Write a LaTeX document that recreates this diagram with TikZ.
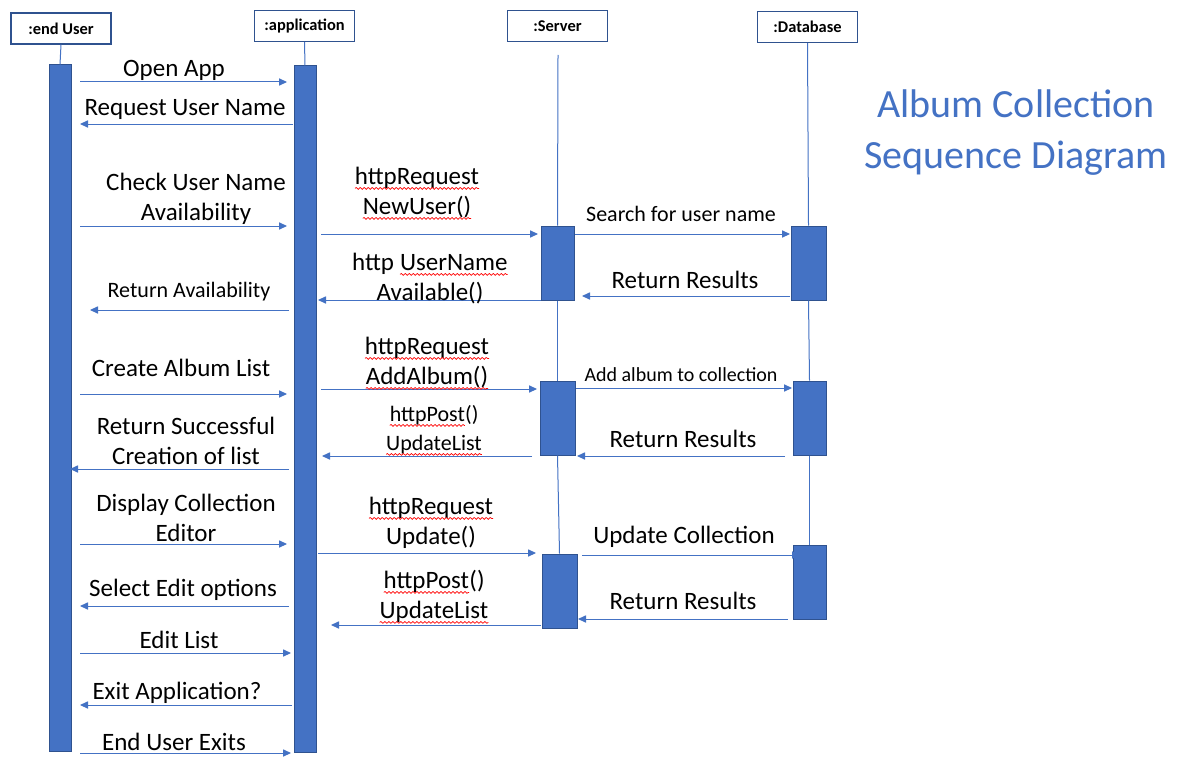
\documentclass[tikz,border=0pt]{standalone}
\usepackage{fontspec}
\setmainfont{Carlito}
\usetikzlibrary{arrows.meta,fit,decorations.pathmorphing}
\definecolor{blu}{HTML}{4472C4}
\definecolor{edgeblue}{HTML}{2F528F}
\newcommand\sqg[1]{\tikz[baseline=(sqw.base)]{\node[inner sep=0pt,outer sep=0pt,anchor=base] (sqw) {#1};
  \draw[red,line width=0.35pt,decorate,decoration={snake,amplitude=0.45pt,segment length=2pt}] ([yshift=-2.2pt]sqw.base west) -- ([yshift=-2.2pt]sqw.base east);}}
\begin{document}
\begin{tikzpicture}[x=0.5pt,y=-0.5pt,
  head/.style={draw=edgeblue,line width=0.6pt,fill=white,minimum width=50pt,minimum height=15.5pt,inner sep=0pt,font=\fontsize{8.2}{9.6}\selectfont\bfseries},
  bar/.style={draw=edgeblue,line width=0.5pt,fill=blu,inner sep=0pt},
  life/.style={draw=blu,line width=0.5pt},
  msg/.style={draw=blu,line width=0.5pt,-{Triangle[length=4pt,width=3.6pt]}},
  lbl/.style={inner sep=0pt,align=center,anchor=base,font=\fontsize{12.5}{15}\selectfont},
  lbls/.style={inner sep=0pt,align=center,anchor=base,font=\fontsize{11}{14.5}\selectfont},
  lblxs/.style={inner sep=0pt,align=center,anchor=base,font=\fontsize{10}{12}\selectfont},
  ttl/.style={inner sep=0pt,align=center,anchor=base,text=blu,font=\fontsize{20}{25}\selectfont}]
\useasboundingbox[fill=white] (0,0) rectangle (1187,765);

% heads
\node[head] (hu) at (61,28.5) {:end User};
\node[head] (ha) at (304.5,26) {:application};
\node[head] (hs) at (557.5,26) {:Server};
\node[head] (hd) at (807.5,27) {:Database};

% activation bars
\node[bar,fit={(49,65)(71,751)}] (bu) {};
\node[bar,fit={(294,66)(316,752)}] (ba) {};
\node[bar,fit={(541,226)(574,300)}] (bs1) {};
\node[bar,fit={(540,381)(575,455)}] (bs2) {};
\node[bar,fit={(542,554)(577,628)}] (bs3) {};
\node[bar,fit={(791,226)(826,300)}] (bd1) {};
\node[bar,fit={(793,381)(826,455)}] (bd2) {};
\node[bar,fit={(793,545)(826,619)}] (bd3) {};

% lifelines
\coordinate (s0) at (558,55);
\draw[life] (hu.south) -- (bu.north);
\draw[life] (ha.south) -- (ba.north);
\draw[life] (s0) -- (bs1.north);
\draw[life] (bs1.south) -- (bs2.north);
\draw[life] (bs2.south) -- (bs3.north);
\draw[life] (hd.south) -- (bd1.north);
\draw[life] (bd1.south) -- (bd2.north);
\draw[life] (bd2.south) -- (bd3.north);

% messages
\foreach \n/\xa/\xb/\y in {1/80/287/82, 2/293/80/124, 3/80/287/226, 4/289/90/310,
  5/80/287/394, 6/289/70/469, 7/80/287/544, 8/289/80/606, 9/80/291/653,
  10/292/80/705, 11/80/291/753,
  A/321/538/234, B/541/318/300, C/790/582/296, D/575/790/234,
  E/321/537/389, F/576/792/388, G/532/322/456, H/785/577/456,
  I/318/536/553, J/582/800/555, K/541/331/625, L/788/578/619}
{
  \coordinate (m\n a) at (\xa,\y);
  \coordinate (m\n b) at (\xb,\y);
  \draw[msg] (m\n a) -- (m\n b);
}

% left labels (anchor = baseline of last line)
\node[lbl] (l1) at (174,76) {Open App};
\node[lbl] (l2) at (185,116) {Request User Name};
\node[lbl] (l3) at (196,220) {Check User Name\\Availability};
\node[lbls] (l4) at (189,297) {Return Availability};
\node[lbl] (l5) at (181,376) {Create Album List};
\node[lbl] (l6) at (186,464) {Return Successful\\Creation of list};
\node[lbl] (l7) at (186,541) {Display Collection\\Editor};
\node[lbl] (l8) at (183,596) {Select Edit options};
\node[lbl] (l9) at (179,648) {Edit List};
\node[lbl] (l10) at (177,699) {Exit Application?};
\node[lbl] (l11) at (174,750) {End User Exits};

% middle labels
\node[lbl] (lA) at (417,214) {\sqg{httpRequest}\\\sqg{NewUser()}};
\node[lbl] (lB) at (430,300) {http \sqg{UserName}\\Available()};
\node[lbl] (lC) at (685,288) {Return Results};
\node[lbls] (lD) at (681,221) {Search for user name};
\node[lbl] (lE) at (427,384) {\sqg{httpRequest}\\\sqg{AddAlbum()}};
\node[lblxs] (lF) at (681,381) {Add album to collection};
\node[lbls] (lG) at (434,450) {\sqg{httpPost}()\\\sqg{UpdateList}};
\node[lbl] (lH) at (683,447) {Return Results};
\node[lbl] (lI) at (431,544) {\sqg{httpRequest}\\Update()};
\node[lbl] (lJ) at (684,543) {Update Collection};
\node[lbl] (lK) at (434,618) {\sqg{httpPost}()\\\sqg{UpdateList}};
\node[lbl] (lL) at (683,609) {Return Results};

% title
\node[ttl] (title) at (1016,168) {Album Collection\\Sequence Diagram};
\end{tikzpicture}
\end{document}
